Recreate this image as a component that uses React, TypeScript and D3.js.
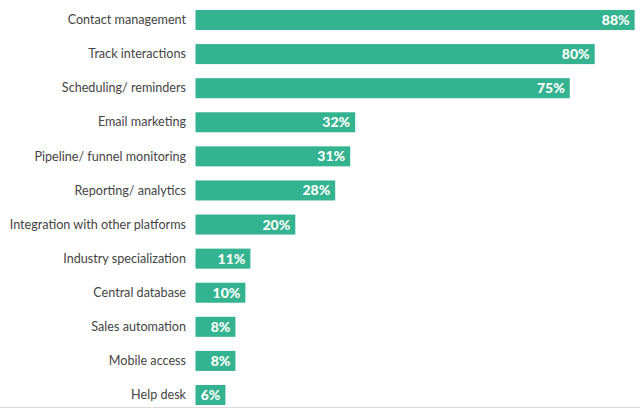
import React from "react";
import * as d3 from "d3";

const categories = [
  "Contact management",
  "Track interactions",
  "Scheduling/ reminders",
  "Email marketing",
  "Pipeline/ funnel monitoring",
  "Reporting/ analytics",
  "Integration with other platforms",
  "Industry specialization",
  "Central database",
  "Sales automation",
  "Mobile access",
  "Help desk",
];
const values = [88, 80, 75, 32, 31, 28, 20, 11, 10, 8, 8, 6];

const W = 640;
const H = 412;

export default function App() {
  const x = d3.scaleLinear().domain([0, 100]).range([195.5, 694.5]);
  const y = d3.scaleBand<string>().domain(categories).range([10, 405]).paddingInner(0.413).paddingOuter(0);
  const bw = y.bandwidth();
  return (
    <svg width={W} height={H} style={{ position: "absolute", left: 0, top: 0, background: "#fff" }}>
      <rect x={0} y={0} width={W} height={H} fill="#fff" />
      {categories.map((c, i) => {
        const y0 = y(c)!;
        const xe = x(values[i]);
        return (
          <g key={c}>
            <rect x={x(0)} y={y0} width={xe - x(0)} height={bw} fill="#33b38f" />
            <text
              x={186}
              y={y0 + bw / 2}
              dy="0.33em"
              textAnchor="end"
              fontFamily="Lato"
              fontSize={12.6}
              fill="#444"
            >
              {c}
            </text>
            <text
              x={xe - 5}
              y={y0 + bw / 2}
              dy="0.36em"
              textAnchor="end"
              fontFamily="Lato"
              fontWeight={900}
              fontSize={14}
              fill="#fff"
            >
              {values[i]}%
            </text>
          </g>
        );
      })}
      <line x1={0} x2={640} y1={407.5} y2={407.5} stroke="#dcdcdc" strokeWidth={1} />
    </svg>
  );
}
